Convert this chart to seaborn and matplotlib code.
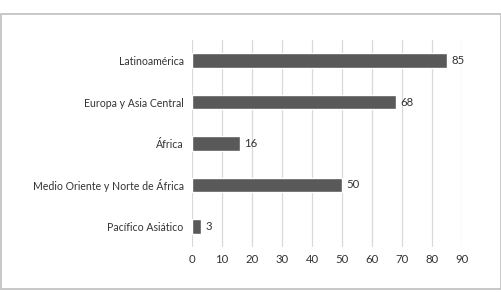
import matplotlib
matplotlib.use("Agg")
import matplotlib.pyplot as plt
import seaborn as sns
import pandas as pd
from matplotlib.patches import Rectangle

# Data
regions = ["Latinoamérica", "Europa y Asia Central", "África",
           "Medio Oriente y Norte de África", "Pacífico Asiático"]
counts = [85, 68, 16, 50, 3]
x_ticks = [0, 10, 20, 30, 40, 50, 60, 70, 80, 90]

df = pd.DataFrame({"region": regions, "count": counts})

sns.set_style("white")
plt.rcParams["font.family"] = ["Lato", "DejaVu Sans"]

fig = plt.figure(figsize=(5.02, 2.94), dpi=100)
ax = fig.add_axes([0.3825, 0.160, 0.5378, 0.704])

sns.barplot(data=df, x="count", y="region", order=regions,
            color="#595959", width=0.35, saturation=1, ax=ax)

# Value labels at the end of each bar
for container in ax.containers:
    ax.bar_label(container, padding=3, fontsize=8.2, color="#333333")

ax.set_xlim(0, 90)
ax.set_xticks(x_ticks)
ax.set_xlabel("")
ax.set_ylabel("")
ax.grid(axis="x", color="#d9d9d9", linewidth=0.9)
ax.set_axisbelow(True)
for spine in ax.spines.values():
    spine.set_visible(False)
ax.tick_params(axis="both", length=0, labelcolor="#333333")
ax.tick_params(axis="x", pad=5, labelsize=8.2)
ax.tick_params(axis="y", pad=6, labelsize=7.6)

# Light gray frame around the chart
fig.patches.append(Rectangle((0.002, 0.017), 0.996, 0.935, transform=fig.transFigure,
                             fill=False, edgecolor="#bfbfbf", linewidth=1.2))

fig.savefig("out.png", dpi=100)
